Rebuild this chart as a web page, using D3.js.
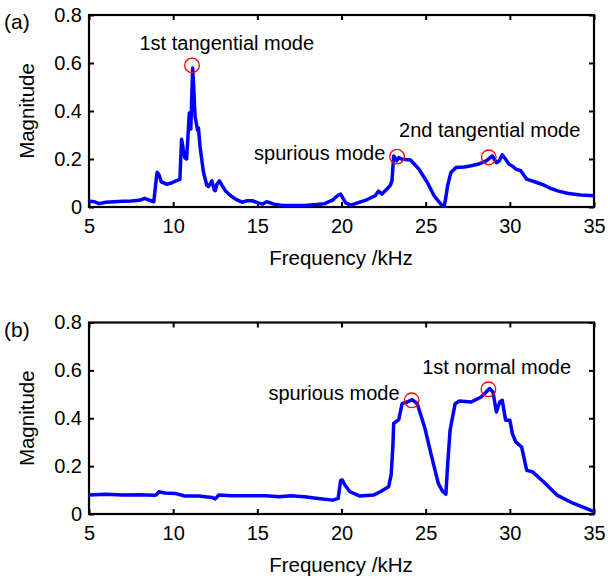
<!DOCTYPE html>
<html>
<head>
<meta charset="utf-8">
<script src="https://cdn.jsdelivr.net/npm/d3@7"></script>
<style>
  body { margin: 0; background: #fff; }
  svg text { font-family: "Liberation Sans", Arial, sans-serif; fill: #000; }
</style>
</head>
<body>
<svg id="fig" width="608" height="579"></svg>
<script>
// datos
var freqA = [5.0, 5.3, 5.6, 6.0, 6.5, 7.0, 7.5, 8.0, 8.3, 8.6, 8.85, 9.0, 9.05, 9.15, 9.3, 9.6, 9.9, 10.2, 10.4,
  10.45, 10.5, 10.6, 10.7, 10.8, 10.9, 10.96, 11.05, 11.1, 11.16, 11.22, 11.3, 11.45, 11.5, 11.6, 11.8, 12.0,
  12.1, 12.3, 12.45, 12.5, 12.6, 12.75, 12.9, 13.1, 13.4, 13.7, 14.1, 14.4, 14.7, 15.0, 15.3, 15.56, 16.0, 16.5,
  17.0, 17.8, 18.5, 19.0, 19.5, 19.75, 19.95, 20.1, 20.25, 20.55, 21.0, 21.5, 22.0, 22.2, 22.4, 22.7, 22.9, 23.0,
  23.1, 23.28, 23.4, 23.6, 24.1, 24.6, 25.1, 25.5, 25.9, 26.1, 26.2, 26.3, 26.5, 26.8, 27.3, 27.7, 28.1, 28.6,
  28.96, 29.2, 29.35, 29.55, 29.75, 29.95, 30.15, 30.35, 30.65, 31.0, 31.6, 32.0, 32.4, 32.9, 33.4, 34.2, 35.0];
var magA = [0.025, 0.022, 0.014, 0.020, 0.022, 0.024, 0.025, 0.028, 0.036, 0.028, 0.022, 0.12, 0.145, 0.135, 0.105,
  0.095, 0.10, 0.11, 0.115, 0.2, 0.282, 0.24, 0.205, 0.20, 0.32, 0.392, 0.325, 0.45, 0.579, 0.5, 0.378, 0.32, 0.33,
  0.25, 0.145, 0.09, 0.085, 0.109, 0.07, 0.068, 0.095, 0.109, 0.09, 0.068, 0.048, 0.033, 0.02, 0.026, 0.026, 0.018,
  0.012, 0.022, 0.012, 0.006, 0.006, 0.006, 0.01, 0.014, 0.03, 0.047, 0.054, 0.035, 0.017, 0.008, 0.018, 0.03,
  0.047, 0.066, 0.054, 0.075, 0.09, 0.11, 0.213, 0.192, 0.206, 0.199, 0.196, 0.158, 0.102, 0.047, 0.012, 0.003,
  0.04, 0.088, 0.144, 0.165, 0.167, 0.172, 0.178, 0.192, 0.213, 0.185, 0.19, 0.217, 0.199, 0.178, 0.171, 0.158,
  0.151, 0.116, 0.102, 0.092, 0.078, 0.066, 0.057, 0.050, 0.047];

var freqB = [5.0, 6.0, 7.0, 8.0, 8.9, 9.0, 9.15, 9.5, 10.1, 10.7, 11.5, 12.3, 12.5, 12.7, 13.5, 14.7, 15.5, 16.3,
  17.0, 17.8, 18.6, 19.5, 19.8, 19.95, 20.05, 20.2, 20.5, 21.1, 21.9, 22.3, 22.8, 22.95, 23.05, 23.1, 23.4, 23.6,
  23.9, 24.2, 24.5, 24.96, 25.36, 25.75, 26.0, 26.2, 26.3, 26.45, 26.75, 27.0, 27.7, 28.3, 28.8, 29.0, 29.2, 29.4,
  29.55, 29.75, 30.0, 30.15, 30.35, 30.7, 31.0, 31.35, 32.0, 32.8, 33.75, 34.75, 35.0];
var magB = [0.079, 0.082, 0.079, 0.08, 0.078, 0.08, 0.093, 0.088, 0.086, 0.075, 0.075, 0.069, 0.063, 0.079, 0.076,
  0.076, 0.076, 0.072, 0.076, 0.072, 0.065, 0.058, 0.065, 0.14, 0.142, 0.121, 0.093, 0.075, 0.079, 0.093, 0.114,
  0.163, 0.28, 0.378, 0.394, 0.461, 0.468, 0.478, 0.461, 0.357, 0.239, 0.128, 0.095, 0.083, 0.2, 0.35, 0.461,
  0.472, 0.468, 0.489, 0.524, 0.51, 0.426, 0.468, 0.475, 0.392, 0.392, 0.336, 0.301, 0.28, 0.183, 0.176, 0.135,
  0.079, 0.045, 0.017, 0.01];

var xTicks = [5, 10, 15, 20, 25, 30, 35];
var yTicks = [0, 0.2, 0.4, 0.6, 0.8];

// circulos marcados: [frecuencia, magnitud]
var circA = [[11.12, 0.59], [23.3, 0.21], [28.75, 0.207]];
var circB = [[24.17, 0.475], [28.73, 0.521]];

// etiquetas de modos: [texto, frecuencia, magnitud, anclaje]
var labelsA = [["1st tangential mode", 8.0, 0.655, "start"], ["spurious mode", 22.6, 0.194, "end"],
  ["2nd tangential mode", 23.42, 0.29, "start"]];
var labelsB = [["spurious mode", 23.45, 0.475, "end"], ["1st normal mode", 24.79, 0.583, "start"]];

var svg = d3.select("#fig");
var x = d3.scaleLinear().domain([5, 35]).range([89, 594]);

function panel(tag, top, bottom, freq, mag, circles, labels) {
  var y = d3.scaleLinear().domain([0, 0.8]).range([bottom, top]);
  var g = svg.append("g");

  // ejes con marcas hacia dentro
  g.append("g").attr("transform", "translate(0," + bottom + ")")
    .call(d3.axisBottom(x).tickValues(xTicks).tickSize(-5).tickPadding(12).tickFormat(d3.format("d")));
  g.append("g").attr("transform", "translate(" + x(5) + ",0)")
    .call(d3.axisLeft(y).tickValues(yTicks).tickSize(-5).tickPadding(7).tickFormat(function (d) { return d === 0 ? "0" : d3.format(".1f")(d); }));
  g.append("g").attr("transform", "translate(0," + top + ")")
    .call(d3.axisTop(x).tickValues(xTicks).tickSize(-5).tickFormat(""));
  g.append("g").attr("transform", "translate(" + x(35) + ",0)")
    .call(d3.axisRight(y).tickValues(yTicks).tickSize(-5).tickFormat(""));
  g.selectAll(".domain").remove();
  g.selectAll(".tick line").attr("stroke", "#000").attr("stroke-width", 2);
  g.selectAll(".tick text").style("font-size", "20px");

  // marco
  g.append("rect")
    .attr("x", x(5)).attr("y", top)
    .attr("width", x(35) - x(5)).attr("height", bottom - top)
    .attr("fill", "none").attr("stroke", "#000").attr("stroke-width", 2.2);

  // curva
  var linea = d3.line().x(function (d, i) { return x(freq[i]); }).y(function (d) { return y(d); });
  g.append("path").datum(mag)
    .attr("d", linea)
    .attr("fill", "none").attr("stroke", "#0000ff").attr("stroke-width", 3.5).attr("stroke-linejoin", "round");

  g.selectAll(".circ").data(circles).enter().append("circle")
    .attr("cx", function (d) { return x(d[0]); })
    .attr("cy", function (d) { return y(d[1]); })
    .attr("r", 7.3)
    .attr("fill", "none").attr("stroke", "#ff0000").attr("stroke-width", 1.3);

  g.selectAll(".lab").data(labels).enter().append("text")
    .attr("x", function (d) { return x(d[1]); })
    .attr("y", function (d) { return y(d[2]); })
    .attr("text-anchor", function (d) { return d[3]; })
    .style("font-size", "20px")
    .text(function (d) { return d[0]; });

  // titulos
  g.append("text").attr("x", 341).attr("y", bottom + 58)
    .attr("text-anchor", "middle").style("font-size", "20.5px").text("Frequency /kHz");
  g.append("text")
    .attr("transform", "translate(34," + ((top + bottom) / 2) + ") rotate(-90)")
    .attr("text-anchor", "middle").style("font-size", "20.5px").text("Magnitude");
  g.append("text").attr("x", 4).attr("y", top + 14)
    .style("font-size", "21px").text(tag);
}

panel("(a)", 15, 207, freqA, magA, circA, labelsA);
panel("(b)", 322.5, 514, freqB, magB, circB, labelsB);
</script>
</body>
</html>
